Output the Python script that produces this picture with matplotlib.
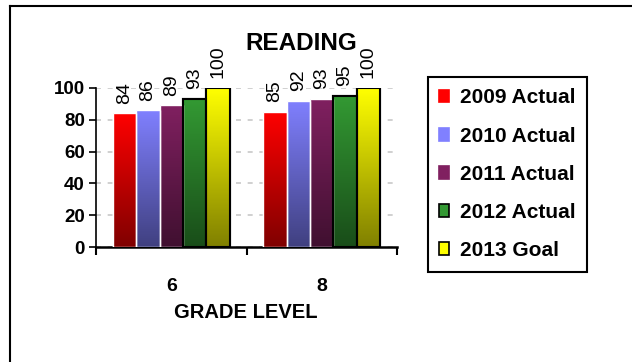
import numpy as np
import matplotlib
matplotlib.use("Agg")
import matplotlib.pyplot as plt
from matplotlib.patches import Patch
from matplotlib.lines import Line2D
from matplotlib.colors import to_rgb

plt.rcParams['font.family'] = ['Liberation Sans', 'DejaVu Sans']

grades = ["6", "8"]
series = ["2009 Actual", "2010 Actual", "2011 Actual", "2012 Actual", "2013 Goal"]
values = {
    "2009 Actual": [84, 85],
    "2010 Actual": [86, 92],
    "2011 Actual": [89, 93],
    "2012 Actual": [93, 95],
    "2013 Goal": [100, 100],
}
top_colors = ["#ff0000", "#8080ff", "#802060", "#339933", "#ffff00"]
bottom_colors = ["#800000", "#404080", "#401030", "#194d19", "#808000"]
edge_colors = ["white", "white", "white", "black", "black"]
edge_widths = [1.0, 1.0, 1.0, 1.5, 1.5]
title = "READING"
xlabel = "GRADE LEVEL"
yticks = [0, 20, 40, 60, 80, 100]

fig = plt.figure(figsize=(6.32, 3.62), dpi=100)
ax = fig.add_axes([96/632, 1-247/362, (397-96)/632, (247-88)/362])

x = np.arange(len(grades))
w = 0.155
n = len(series)
for i, s in enumerate(series):
    offs = (i - (n-1)/2) * w
    bars = ax.bar(x + offs, values[s], width=w, color=top_colors[i],
                  edgecolor=edge_colors[i], linewidth=edge_widths[i], zorder=3)
    c0 = np.array(to_rgb(bottom_colors[i]))
    c1 = np.array(to_rgb(top_colors[i]))
    t = np.linspace(0, 1, 100)[:, None]
    grad = (c0[None, :] * (1 - t) + c1[None, :] * t)[:, None, :]
    for b, v in zip(bars, values[s]):
        bx, by = b.get_x(), b.get_y()
        im = ax.imshow(grad, extent=[bx, bx + b.get_width(), by, by + b.get_height()],
                       origin='lower', aspect='auto', zorder=3.5, interpolation='bilinear')
        im.set_clip_path(b)
        ax.bar(b.get_x() + b.get_width()/2, v, width=w, fill=False,
               edgecolor=edge_colors[i], linewidth=edge_widths[i], zorder=4)
        ax.annotate(str(v), (b.get_x() + b.get_width()/2, v), xytext=(0, 7),
                    textcoords='offset points', rotation=90, ha='center', va='bottom',
                    fontsize=14, zorder=5, annotation_clip=False)

ax.set_xlim(-0.5, 1.5)
ax.set_ylim(0, 100)
ax.set_yticks(yticks)
ax.set_yticklabels([str(v) for v in yticks], fontsize=13.5, fontweight='bold')
ax.set_xticks(x)
ax.set_xticklabels(grades, fontsize=14, fontweight='bold')
ax.set_xticks([-0.5, 0.5, 1.5], minor=True)
ax.tick_params(axis='x', which='major', length=0, pad=22)
ax.tick_params(axis='x', which='minor', length=6, width=1.5, direction='out')
ax.tick_params(axis='y', length=5, width=1.2, pad=3)
for sp in ['top', 'right']:
    ax.spines[sp].set_visible(False)
ax.spines['bottom'].set_linewidth(1.8)
ax.spines['left'].set_linewidth(1.2)
ax.set_axisbelow(True)
ax.yaxis.grid(True, color='#c8c8c8', linestyle=(0, (3, 4)), linewidth=1.2, zorder=0)
ax.patch.set_visible(False)

fig.text(301/632, 1-44/362, title, fontsize=17.5, fontweight='bold', ha='center', va='center')
fig.text(246/632, 1-312/362, xlabel, fontsize=14.5, fontweight='bold', ha='center', va='center')

handles = [Patch(facecolor=top_colors[i], edgecolor=('black' if i >= 3 else top_colors[i]),
                 linewidth=1.2) for i in range(n)]
leg = fig.legend(handles, series, loc='upper left', bbox_to_anchor=(428/632, 1-77/362),
                 bbox_transform=fig.transFigure, frameon=True, fancybox=False,
                 framealpha=1, edgecolor='black', prop={'size': 15, 'weight': 'bold'},
                 handlelength=0.45, handleheight=0.55, handletextpad=0.55,
                 labelspacing=0.92, borderpad=0.55, borderaxespad=0)
leg.get_frame().set_linewidth(1.5)

fig.add_artist(Line2D([10/632, 1], [1-6/362, 1-6/362], color='black', linewidth=1.5,
                      transform=fig.transFigure))
fig.add_artist(Line2D([10/632, 10/632], [0, 1-6/362], color='black', linewidth=1.5,
                      transform=fig.transFigure))

fig.savefig("out.png", dpi=100)
